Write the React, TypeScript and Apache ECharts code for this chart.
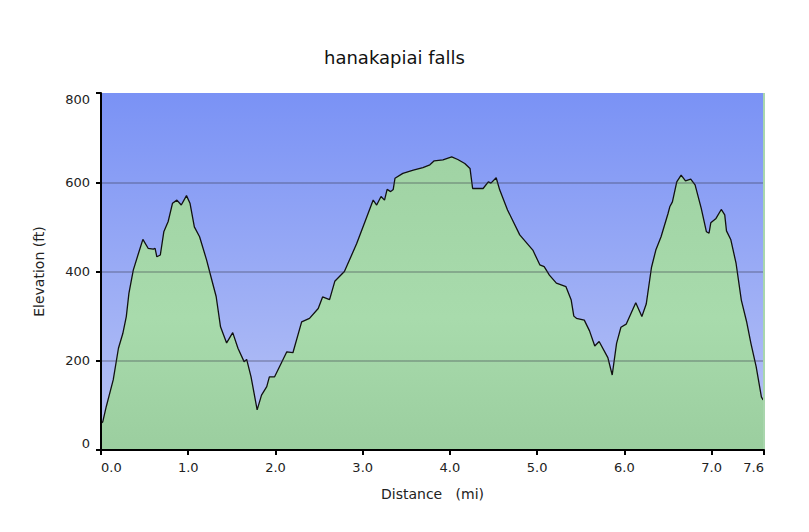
import React, { useEffect, useRef } from "react";
import * as echarts from "echarts";

const distanceMi = [
  0.0, 0.02, 0.06, 0.14, 0.2, 0.25, 0.29, 0.32, 0.37, 0.43, 0.48, 0.54, 0.6, 0.62, 0.64, 0.68,
  0.72, 0.77, 0.82, 0.87, 0.92, 0.98, 1.02, 1.07, 1.13, 1.21, 1.27, 1.32, 1.37, 1.44, 1.51, 1.57,
  1.64, 1.67, 1.72, 1.79, 1.84, 1.9, 1.93, 1.99, 2.13, 2.2, 2.3, 2.39, 2.49, 2.54, 2.62, 2.68,
  2.79, 2.93, 3.04, 3.12, 3.16, 3.21, 3.25, 3.28, 3.32, 3.35, 3.37, 3.46, 3.58, 3.69, 3.77, 3.82,
  3.92, 4.02, 4.09, 4.17, 4.23, 4.26, 4.38, 4.44, 4.47, 4.53, 4.57, 4.66, 4.8, 4.95, 5.03, 5.08,
  5.14, 5.22, 5.33, 5.39, 5.42, 5.45, 5.54, 5.6, 5.66, 5.71, 5.81, 5.86, 5.91, 5.96, 6.02, 6.13,
  6.2, 6.25, 6.31, 6.36, 6.42, 6.5, 6.52, 6.55, 6.6, 6.65, 6.7, 6.76, 6.81, 6.88, 6.94, 6.97,
  6.99, 7.05, 7.11, 7.15, 7.17, 7.22, 7.28, 7.34, 7.4, 7.45, 7.51, 7.57, 7.59,
];

const elevationFt = [
  60, 63, 97, 157, 228, 261, 299, 351, 403, 441, 472, 452, 450, 452, 433, 437,
  489, 512, 553, 560, 549, 570, 553, 500, 478, 426, 381, 344, 276, 240, 263, 228,
  198, 203, 164, 90, 123, 142, 164, 164, 220, 218, 287, 295, 317, 343, 337, 378,
  400, 462, 519, 560, 549, 568, 560, 584, 579, 584, 609, 620, 627, 633, 639, 648,
  650, 657, 651, 642, 631, 586, 586, 601, 598, 610, 583, 538, 482, 448, 415, 411,
  392, 374, 366, 336, 300, 295, 291, 267, 233, 243, 207, 168, 239, 275, 282, 330,
  299, 327, 409, 448, 478, 530, 545, 556, 601, 616, 603, 607, 594, 542, 489, 486,
  509, 519, 539, 527, 491, 471, 418, 336, 288, 239, 187, 119, 112,
];

const titleText = "hanakapiai falls";
const xAxisName = "Distance\u00a0\u00a0\u00a0(mi)";
const yAxisName = "Elevation (ft)";
const yTicks = [0, 200, 400, 600, 800];
const xMax = 7.6;

export default function App() {
  const ref = useRef<HTMLDivElement>(null);

  useEffect(() => {
    if (!ref.current) return;
    const chart = echarts.init(ref.current, undefined, { renderer: "svg" });
    const font = "DejaVu Sans, Verdana, sans-serif";
    chart.setOption({
      animation: false,
      backgroundColor: "#ffffff",
      title: {
        text: titleText,
        left: 324,
        top: 48,
        padding: 0,
        textStyle: { fontFamily: font, fontSize: 18, fontWeight: "normal", color: "#111" },
      },
      grid: {
        left: 101,
        right: 45,
        top: 93,
        bottom: 82,
        show: true,
        borderWidth: 0,
        backgroundColor: new echarts.graphic.LinearGradient(0, 0, 0, 1, [
          { offset: 0, color: "#7a92f5" },
          { offset: 1, color: "#b9c4f5" },
        ]),
      },
      xAxis: {
        type: "value",
        min: 0,
        max: xMax,
        interval: 1,
        name: xAxisName,
        nameLocation: "middle",
        nameGap: 37,
        nameTextStyle: { fontFamily: font, fontSize: 14, color: "#222" },
        axisLine: { show: true, onZero: false, lineStyle: { color: "#000", width: 2 } },
        axisTick: { show: true, length: 5, lineStyle: { color: "#000", width: 2 } },
        axisLabel: {
          fontFamily: font,
          fontSize: 13,
          color: "#222",
          margin: 11,
          showMinLabel: true,
          showMaxLabel: true,
          alignMinLabel: "left",
          alignMaxLabel: "right",
          formatter: (v: number) => v.toFixed(1),
        },
        splitLine: { show: false },
        z: 5,
      },
      yAxis: {
        type: "value",
        min: yTicks[0],
        max: yTicks[yTicks.length - 1],
        interval: 200,
        name: yAxisName,
        nameLocation: "middle",
        nameGap: 55,
        nameTextStyle: { fontFamily: font, fontSize: 14, color: "#222" },
        axisLine: { show: true, lineStyle: { color: "#000", width: 2 } },
        axisTick: { show: true, length: 5, lineStyle: { color: "#000", width: 2 } },
        axisLabel: {
          fontFamily: font,
          fontSize: 13,
          color: "#222",
          margin: 11,
          showMinLabel: true,
          showMaxLabel: true,
          verticalAlignMinLabel: "bottom",
          verticalAlignMaxLabel: "top",
        },
        splitLine: {
          show: true,
          lineStyle: {
            width: 2,
            color: [
              "rgba(0,0,0,0)",
              "rgba(50,50,70,0.28)",
              "rgba(50,50,70,0.28)",
              "rgba(50,50,70,0.28)",
              "rgba(0,0,0,0)",
            ],
          },
        },
        z: 5,
      },
      series: [
        {
          type: "line",
          data: distanceMi.map((d, i) => [d, elevationFt[i]]),
          showSymbol: false,
          symbol: "none",
          smooth: false,
          lineStyle: { color: "#111", width: 1.3 },
          areaStyle: {
            opacity: 1,
            color: new echarts.graphic.LinearGradient(0, 0, 0, 1, [
              { offset: 0, color: "#a0d3a4" },
              { offset: 0.55, color: "#a8dbac" },
              { offset: 1, color: "#9bce9f" },
            ]),
          },
          markLine: {
            silent: true,
            symbol: "none",
            label: { show: false },
            lineStyle: { color: "#a9d6ad", width: 2, type: "solid" },
            data: [{ xAxis: xMax }],
          },
          z: 2,
        },
      ],
    });
    return () => chart.dispose();
  }, []);

  return (
    <div
      ref={ref}
      style={{ position: "absolute", left: 0, top: 0, width: 809, height: 532 }}
    />
  );
}
